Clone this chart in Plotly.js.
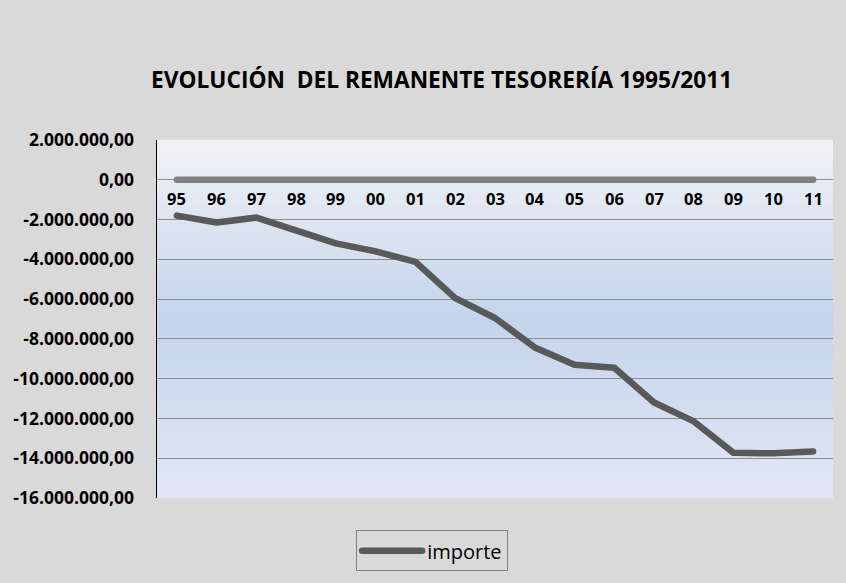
<!DOCTYPE html>
<html>
<head>
<meta charset="utf-8">
<script src="https://cdn.plot.ly/plotly-3.0.1.min.js"></script>
<style>
html,body{margin:0;padding:0;background:#d9d9d9;}
#chart{width:846px;height:583px;}
path.js-line{stroke-linecap:round !important;stroke-linejoin:round !important;}
</style>
</head>
<body>
<div id="chart"></div>
<script>
// Categories (years 1995..2011)
var years = ["95","96","97","98","99","00","01","02","03","04","05","06","07","08","09","10","11"];
// importe values
var importe = [-1800000,-2150000,-1900000,-2550000,-3200000,-3600000,-4130000,-5950000,-6950000,-8430000,-9300000,-9450000,-11200000,-12150000,-13730000,-13750000,-13660000];
// zero series
var zeroSeries = [0,0,0,0,0,0,0,0,0,0,0,0,0,0,0,0,0];
// Y tick labels
var yTickVals = [2000000,0,-2000000,-4000000,-6000000,-8000000,-10000000,-12000000,-14000000,-16000000];
var yTickText = ["2.000.000,00","0,00","-2.000.000,00","-4.000.000,00","-6.000.000,00","-8.000.000,00","-10.000.000,00","-12.000.000,00","-14.000.000,00","-16.000.000,00"];

var FONT = "Open Sans, DejaVu Sans, sans-serif";

// gradient background strips for the plot area
function hex(c){return [parseInt(c.substr(1,2),16),parseInt(c.substr(3,2),16),parseInt(c.substr(5,2),16)];}
function mix(a,b,t){var A=hex(a),B=hex(b);return 'rgb('+A.map(function(v,i){return Math.round(v+(B[i]-v)*t);}).join(',')+')';}
var stops=[[0,'#f3f3f5'],[0.5,'#c4d4ec'],[1,'#e1e7f4']];
function colAt(t){for(var i=0;i<stops.length-1;i++){if(t<=stops[i+1][0]){var u=(t-stops[i][0])/(stops[i+1][0]-stops[i][0]);return mix(stops[i][1],stops[i+1][1],u);}}return stops[stops.length-1][1];}
var shapes=[];var N=60;
for(var i=0;i<N;i++){
  shapes.push({type:'rect',xref:'paper',yref:'paper',x0:0,x1:1,y0:1-(i+1)/N,y1:1-i/N+0.001,fillcolor:colAt((i+0.5)/N),line:{width:0},layer:'below'});
}

// category labels placed just below the zero line (as Excel does)
var annotations = years.map(function(yr, idx){
  return {x:idx,y:zeroSeries[idx],xref:'x',yref:'y',text:yr,showarrow:false,yanchor:'middle',yshift:-19,
          font:{family:FONT,size:16.5,color:'#000000',weight:700}};
});

var traces=[
  {x:years,y:zeroSeries,type:'scatter',mode:'lines',name:'cero',showlegend:false,line:{color:'#808080',width:6.5},hoverinfo:'skip'},
  {x:years,y:importe,type:'scatter',mode:'lines',name:'importe',line:{color:'#595959',width:6.5}}
];

var layout={
  width:846,height:583,
  paper_bgcolor:'#d9d9d9',plot_bgcolor:'rgba(0,0,0,0)',
  margin:{l:157,r:13,t:140,b:85},
  title:{text:'EVOLUCIÓN  DEL REMANENTE TESORERÍA 1995/2011',font:{family:FONT,size:22.7,color:'#000000',weight:700},x:0.522,xanchor:'center',y:0.862,yanchor:'middle'},
  xaxis:{type:'category',range:[-0.5,16.5],showticklabels:false,showgrid:false,zeroline:false,showline:false,ticks:''},
  yaxis:{range:[-16000000,2000000],tickvals:yTickVals,ticktext:yTickText,showgrid:true,gridcolor:'#8c8c8c',gridwidth:1,
         zeroline:false,showline:true,linecolor:'#000000',linewidth:1.5,ticks:'',ticklabelstandoff:18,
         tickfont:{family:FONT,size:17.5,color:'#000000',weight:700}},
  showlegend:true,
  legend:{orientation:'h',x:0.407,xanchor:'center',y:-0.09,yanchor:'top',bgcolor:'#d9d9d9',bordercolor:'#808080',borderwidth:1,
          itemwidth:60,font:{family:FONT,size:20,color:'#000000'}},
  annotations:annotations,
  shapes:shapes
};

Plotly.newPlot('chart',traces,layout,{displayModeBar:false,staticPlot:true});
</script>
</body>
</html>
